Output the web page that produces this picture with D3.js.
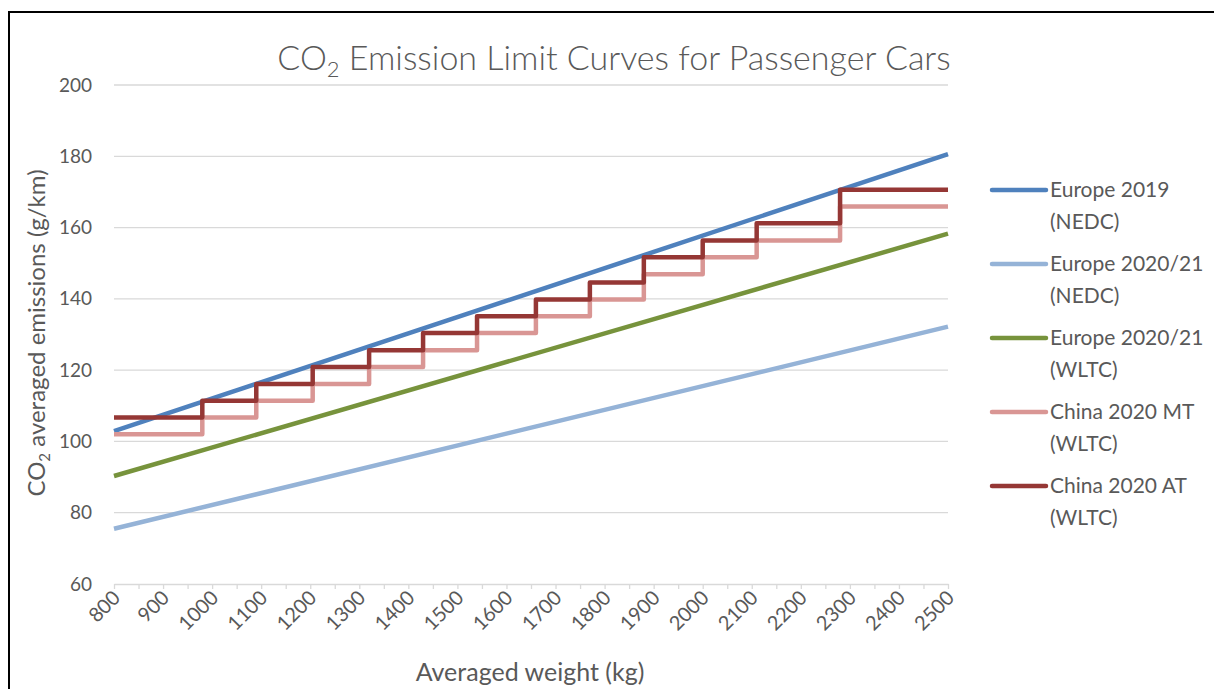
<!DOCTYPE html>
<html>
<head>
<meta charset="utf-8">
<script src="https://cdn.jsdelivr.net/npm/d3@7"></script>
<style>
    body { margin: 0; background: #fff; }
    text { font-family: Lato, "Open Sans", sans-serif; fill: #595959; }
</style>
</head>
<body>
<svg id="drawing_region"></svg>
<script>
// x ticks (kg) and y ticks (g/km)
const xTicks = d3.range(800, 2501, 100);
const yTicks = [60, 80, 100, 120, 140, 160, 180, 200];

// Europe lines, values at 800 kg and 2500 kg
const euWeights = [800, 2500];
const eu2019Nedc = [102.9, 180.6];
const eu2020Nedc = [75.5, 132.2];
const eu2020Wltc = [90.3, 158.3];

// China 2020 step limits, weight class start points
const cnWeights = [800, 980, 1090, 1205, 1320, 1430, 1540, 1660, 1770, 1880, 2000, 2110, 2280, 2500];
const cnMT = [102.0, 106.7, 111.4, 116.1, 120.9, 125.6, 130.4, 135.1, 139.8, 146.9, 151.7, 156.4, 165.9, 165.9];
const cnAT = [106.7, 111.4, 116.1, 120.9, 125.6, 130.4, 135.1, 139.8, 144.6, 151.7, 156.4, 161.2, 170.6, 170.6];

const seriesNames = [
    ["Europe 2019", "(NEDC)"],
    ["Europe 2020/21", "(NEDC)"],
    ["Europe 2020/21", "(WLTC)"],
    ["China 2020 MT", "(WLTC)"],
    ["China 2020 AT", "(WLTC)"]
];
const colors = ["#4f81bd", "#95b3d7", "#77933c", "#d99694", "#953735"];

const series = [
    { x: euWeights, y: eu2019Nedc, step: false },
    { x: euWeights, y: eu2020Nedc, step: false },
    { x: euWeights, y: eu2020Wltc, step: false },
    { x: cnWeights, y: cnMT, step: true },
    { x: cnWeights, y: cnAT, step: true }
];

const W = 1214, H = 689;
const svg = d3.select('#drawing_region').attr('width', W).attr('height', H);

// outer frame
svg.append('rect')
    .attr('x', 9).attr('y', 12).attr('width', 1220).attr('height', 700)
    .attr('fill', 'none').attr('stroke', '#000').attr('stroke-width', 2);

const xscale = d3.scaleLinear().domain([800, 2500]).range([114, 948]);
const yscale = d3.scaleLinear().domain([60, 200]).range([584, 85]);

// gridlines
svg.append('g').selectAll('line')
    .data(yTicks.filter(d => d > 60))
    .join('line')
    .attr('x1', xscale(800)).attr('x2', xscale(2500))
    .attr('y1', d => yscale(d)).attr('y2', d => yscale(d))
    .attr('stroke', '#d9d9d9').attr('stroke-width', 1.3);

// y axis labels
const yaxis = d3.axisLeft(yscale).tickValues(yTicks).tickSize(0).tickPadding(0);
const yg = svg.append('g').attr('transform', `translate(92,0)`).call(yaxis);
yg.select('.domain').remove();
yg.selectAll('text').attr('font-size', 19).attr('font-family', null).attr('fill', null);

// x axis
const xaxis = d3.axisBottom(xscale).tickValues(d3.range(800, 2501, 50)).tickSize(5).tickSizeOuter(0)
    .tickFormat(d => xTicks.includes(d) ? d : '');
const xg = svg.append('g').attr('transform', `translate(0,${yscale(60)})`).call(xaxis);
xg.select('.domain').attr('stroke', '#d9d9d9').attr('stroke-width', 1.3);
xg.selectAll('.tick line').attr('stroke', '#d9d9d9').attr('stroke-width', 1.3);
xg.selectAll('text')
    .attr('font-size', 20).attr('font-family', null).attr('fill', null)
    .attr('text-anchor', 'end')
    .attr('dy', null).attr('y', 0)
    .attr('transform', 'translate(7,15) rotate(-45)');

// series lines
const lineGen = d3.line().x(d => xscale(d[0])).y(d => yscale(d[1]));
const stepGen = d3.line().x(d => xscale(d[0])).y(d => yscale(d[1])).curve(d3.curveStepAfter);

series.forEach((s, i) => {
    const pts = s.x.map((x, j) => [x, s.y[j]]);
    svg.append('path')
        .datum(pts)
        .attr('d', s.step ? stepGen : lineGen)
        .attr('fill', 'none')
        .attr('stroke', colors[i])
        .attr('stroke-width', 4.5)
        .attr('stroke-linejoin', 'round');
});

// title
const title = svg.append('text')
    .attr('x', 614).attr('y', 70)
    .attr('text-anchor', 'middle')
    .attr('font-size', 34).attr('font-weight', 300);
title.append('tspan').text('CO');
title.append('tspan').text('2').attr('font-size', 22).attr('dy', 7);
title.append('tspan').text(' Emission Limit Curves for Passenger Cars').attr('dy', -7);

// y axis title
const ytitle = svg.append('text')
    .attr('transform', 'translate(45,333) rotate(-90)')
    .attr('text-anchor', 'middle')
    .attr('font-size', 24);
ytitle.append('tspan').text('CO');
ytitle.append('tspan').text('2').attr('font-size', 15).attr('dy', 5);
ytitle.append('tspan').text(' averaged emissions (g/km)').attr('dy', -5);

// x axis title
svg.append('text')
    .attr('x', 530).attr('y', 681)
    .attr('text-anchor', 'middle')
    .attr('font-size', 25)
    .text('Averaged weight (kg)');

// legend
const legend = svg.append('g');
const legendY = [190, 264, 338, 412, 486];
seriesNames.forEach((n, i) => {
    const g = legend.append('g').attr('transform', `translate(0,${legendY[i]})`);
    g.append('line')
        .attr('x1', 992).attr('x2', 1046)
        .attr('stroke', colors[i]).attr('stroke-width', 4.5).attr('stroke-linecap', 'round');
    g.append('text').attr('x', 1050).attr('y', 7).attr('font-size', 21).text(n[0]);
    g.append('text').attr('x', 1050).attr('y', 39).attr('font-size', 21).text(n[1]);
});
</script>
</body>
</html>
